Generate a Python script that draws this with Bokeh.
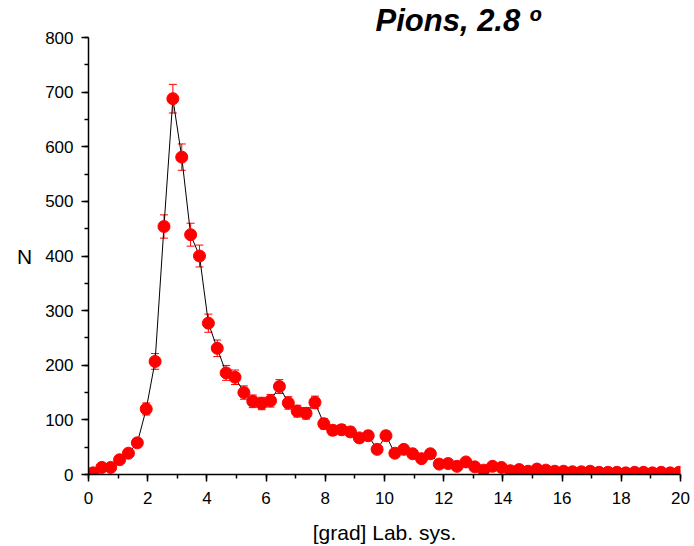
from bokeh.plotting import figure
from bokeh.models import (ColumnDataSource, Whisker, TeeHead, Range1d,
                          SingleIntervalTicker)
from bokeh.embed import file_html
from bokeh.resources import INLINE

# Data: angle bin centres [grad], counts N, and read-off error bar half-lengths
angle = [0.15, 0.45, 0.75, 1.05, 1.35, 1.65, 1.95, 2.25, 2.55, 2.85,
         3.15, 3.45, 3.75, 4.05, 4.35, 4.65, 4.95, 5.25, 5.55, 5.85,
         6.15, 6.45, 6.75, 7.05, 7.35, 7.65, 7.95, 8.25, 8.55, 8.85,
         9.15, 9.45, 9.75, 10.05, 10.35, 10.65, 10.95, 11.25, 11.55, 11.85,
         12.15, 12.45, 12.75, 13.05, 13.35, 13.65, 13.95, 14.25, 14.55, 14.85,
         15.15, 15.45, 15.75, 16.05, 16.35, 16.65, 16.95, 17.25, 17.55, 17.85,
         18.15, 18.45, 18.75, 19.05, 19.35, 19.65, 19.95]
counts = [3, 13, 13, 27, 39, 58, 120, 207, 454, 688,
          581, 439, 400, 277, 231, 186, 178, 150, 134, 130,
          135, 161, 131, 116, 112, 132, 93, 81, 82, 78,
          67, 71, 46, 71, 39, 46, 38, 29, 38, 19,
          20, 15, 23, 14, 8, 15, 13, 7, 9, 6,
          10, 8, 6, 6, 5, 5, 6, 4, 4, 4,
          3, 4, 4, 3, 4, 3, 4]
errors = [1.7, 3.6, 3.6, 5.2, 6.2, 7.6, 11.0, 14.4, 21.3, 26.2,
          24.1, 21.0, 20.0, 16.6, 15.2, 13.6, 13.3, 12.2, 11.6, 11.4,
          11.6, 12.7, 11.4, 10.8, 10.6, 11.5, 9.6, 9.0, 9.1, 8.8,
          8.2, 8.4, 6.8, 8.4, 6.2, 6.8, 6.2, 5.4, 6.2, 4.4,
          4.5, 3.9, 4.8, 3.7, 2.8, 3.9, 3.6, 2.6, 3.0, 2.4,
          3.2, 2.8, 2.4, 2.4, 2.2, 2.2, 2.4, 2.0, 2.0, 2.0,
          1.7, 2.0, 2.0, 1.7, 2.0, 1.7, 2.0]

title_text = "Pions, 2.8 º"
x_label = "[grad] Lab. sys."
y_label = "N"

src = ColumnDataSource(dict(
    x=angle, y=counts,
    lower=[c - e for c, e in zip(counts, errors)],
    upper=[c + e for c, e in zip(counts, errors)],
))

FONT = "Liberation Sans"

p = figure(width=694, height=546, output_backend="svg", toolbar_location=None,
           x_range=Range1d(0, 20), y_range=Range1d(0, 800),
           min_border_left=88, min_border_right=14,
           min_border_top=37, min_border_bottom=72,
           title=title_text)
p.outline_line_color = None
p.grid.visible = False
p.background_fill_color = "white"
p.border_fill_color = "white"

p.title.text_font = FONT
p.title.text_font_size = "31px"
p.title.text_font_style = "bold italic"
p.title.text_color = "black"
p.title.align = "left"
p.title.offset = 287
p.title.standoff = 0
p.title.vertical_align = "bottom"

p.line("x", "y", source=src, line_color="black", line_width=1)
wh = Whisker(base="x", lower="lower", upper="upper", source=src,
             line_color="red", line_width=1,
             upper_head=TeeHead(size=8, line_color="red", line_width=1),
             lower_head=TeeHead(size=8, line_color="red", line_width=1))
p.add_layout(wh)
p.scatter("x", "y", source=src, size=12, fill_color="red", line_color="red")

p.xaxis.ticker = SingleIntervalTicker(interval=2, num_minor_ticks=2)
p.yaxis.ticker = SingleIntervalTicker(interval=100, num_minor_ticks=2)

for ax in (p.xaxis[0], p.yaxis[0]):
    ax.axis_line_width = 1.5
    ax.axis_line_color = "black"
    ax.major_tick_line_width = 1.5
    ax.minor_tick_line_width = 1.5
    ax.major_tick_in = 0
    ax.major_tick_out = 7
    ax.minor_tick_in = 0
    ax.minor_tick_out = 4
    ax.major_label_text_font = FONT
    ax.major_label_text_font_size = "17px"
    ax.major_label_text_color = "black"
    ax.axis_label_text_font = FONT
    ax.axis_label_text_font_size = "21px"
    ax.axis_label_text_font_style = "normal"
    ax.axis_label_text_color = "black"

p.xaxis.axis_label = x_label
p.yaxis.axis_label = y_label
p.yaxis.axis_label_orientation = "horizontal"
p.xaxis.major_label_standoff = 10
p.xaxis.axis_label_standoff = 14
p.yaxis.major_label_standoff = 8
p.yaxis.axis_label_standoff = 10

open("out.html", "w").write(file_html(p, INLINE))
